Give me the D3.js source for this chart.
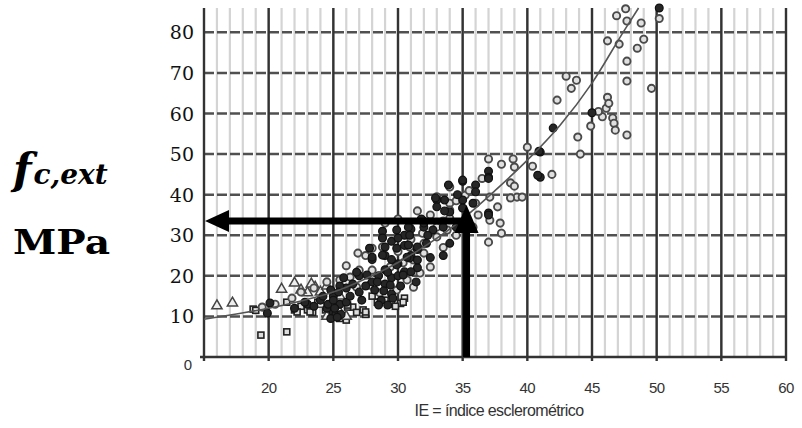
<!DOCTYPE html>
<html lang="pt">
<head>
<meta charset="UTF-8">
<title>fc,ext x IE</title>
<script src="https://d3js.org/d3.v7.min.js"></script>
<style>
  body { margin: 0; background: #fff; }
  svg { display: block; }
</style>
</head>
<body>
<div id="chart"></div>
<script>
    // Values (IE, fc,ext in MPa)
    var openCircles = [
        [46.9,84.1],[47.7,82.8],[48.8,82.3],[50.2,83.4],[46.2,77.9],[47.1,77.1],[49,78.3],[48.5,76.1],
        [47.7,72.9],[47.7,68],[49.6,66.2],[43,69.2],[43.8,68.2],[43.4,66.2],[42.3,63.3],[46.2,64],
        [46.1,61.3],[45.8,59.2],[46.6,58.9],[46.7,57.6],[46.8,55.9],[47.7,54.7],[44.9,56.9],[43.9,54.2],
        [44.1,50],[40,51.7],[37,48.8],[38,47.5],[38.9,48.8],[39,46.8],[40.4,47],[41.9,45],[34,41.9],
        [38.7,42.9],[39,42.1],[39.2,39.4],[38.7,39.2],[39.6,39.4],[37.1,39.4],[35.2,39.9],[36,37.9],
        [34,37.9],[37.7,37],[37.1,33.7],[37.9,33],[38,30.5],[37,28.3],[35.8,32],[33.8,31.3],[47.6,85.8],
        [45.5,60.5],[46.3,62.5],
        [26.9,25.6],[28,26.8],[28.8,29.6],[28.8,27.1],[30.9,32],[30.9,27.1],[31.9,30.5],[33,32],[33,29.6],
        [34,36.2],[34,34.2],[35,36.7],[27,21.4],[28,21.4],[29.4,22.2],[30.4,23.2],[31.2,23.9],[32,25.6],
        [32.5,22.2],[25.5,19],[26.3,19.7],[26.8,17.2],[27.8,17.7],[28.6,15.8],[29.9,16.5],[30.7,19],
        [31.2,17.2],[31.7,20.7],[33.5,27],[34.5,30],[36.2,35],[35.5,41],[32.5,35],[31.5,36],[30,34],
        [29,33],[27.5,25],[26,22.5],[24.5,18.5],[23.5,17],[22.5,16],[21.8,14.5],[20.5,13],[19.5,12.3],
        [30,26],[31,29],[32,28],[33.5,33.5],[34.5,38.5],[36.5,44],[33,39.5]
    ];
    var filledCircles = [
        [50.2,86],[45,60.2],[42,56.4],[41,50.5],[40.9,50.7],[37,45.8],[37,44.3],[41,44.3],[40.8,44.8],
        [35,43.3],[36,42.4],[36,40.7],[33.6,38.7],[37,35.5],[33,38.7],[33.9,42.4],[35,43.6],[29.9,31.3],
        [31.9,33.7],[28.8,31],[30.5,30],[31,31.5],[32,32],[29.5,28.5],[30.5,27.5],[31.5,26.5],[28,24],
        [29,25],[27,20],[28.5,20],[29.5,19.5],[30.5,21],[31.5,22],[26,17],[27,16],[25,15],[25.5,13],
        [25,11],[24.5,12],[25.2,10.5],[26,13.5],[24,14],[23,13],[20.1,13.3],[19.9,10.8],[29,18],[30,20],
        [32.5,24.5],[33.5,25],[34,28],[28,18.5],[29.5,15.5],[24.8,16.5],[25.5,17.5],[29,21.5],[30,23],
        [31,25],[34.5,32],[35.3,33],
        [27.8,26.8],[28,24.6],[28.8,29.3],[29,27.1],[28.8,25.1],[30,29.3],[29.9,26.8],[30.8,32],[30.9,30],
        [30.8,27.6],[25.8,19.5],[26.8,20.9],[27.6,20.2],[28.4,18.5],[29.2,20.9],[29.4,17.7],[29.9,22.7],
        [30.4,20.2],[30.9,24.4],[31.4,18.5],[22,12],[22.8,13.5],[23.5,12.5],[24.2,15],[24.6,13],[25,14],
        [25.4,16],[25.1,12],[25.6,10.5],[24.8,9.5],[25.3,9.8],[26.3,15],[26.5,18],[27.2,14],[27.5,17.5],
        [28.2,16.5],[28.7,14],[29.2,12.8],[28.9,16.3],[33,37],[35,38.7],[35,36.7],[37,44],[37,35],
        [35.8,37.9],[32,33],[32.7,31.3],[33.5,32],[31.5,27.1],[32.2,28],[31.5,23.9],[30.7,24.6],
        [32.9,39.2],[34,35.7],[33.6,36],[34.6,40],[32.3,30],[31.8,34],[29.5,24],[30.2,17.5],[31,21],
        [29.6,14.5],[28.5,12.8]
    ];
    var squares = [
        [19.4,5.4],[21.4,6.2],[18.8,11.8],[21.4,13.5],[22,11.6],[23,11.6],[23.4,11],[24.4,11.6],[26,9.1],
        [26.5,12.3],[27.3,11.6],[26.1,12.3],[30.5,14.5],[28.5,13.5],[29,14],[24.8,10],[25.5,9.5],
        [27.5,10.5],[22.5,12.5],[30.2,13.2],[28,15],[19,11.5],[25,12.5],[23.8,13.5],[26.8,11],
        [28.4,13.5],[27.5,11.1],[30.4,13.5],[26.1,12.8],[23.2,11.1],[22.2,11.1],[29.5,13],[29.8,12.5]
    ];
    var triangles = [
        [16,12.6],[17.2,13.3],[21,16.7],[22,18.2],[23,15.8],[23.6,17.2],[22.5,16.5],[24,16],[24.5,17.5],
        [25.5,15],[23.3,18],[24,13],[25,10.5],[24.5,10],[25.5,11],[26,10]
    ];
    // trend line, read point by point
    var trendIE = [15, 17.5, 20, 22.5, 25, 27.5, 30, 32.5, 35, 37.5, 40, 42.5, 45, 47.5, 48.6];
    var trendFc = [9.3, 10.6, 12, 13.8, 16, 19.3, 23.3, 28.2, 34, 41, 48.5, 57, 67.5, 80.5, 86];

    var xTicks = [20, 25, 30, 35, 40, 45, 50, 55, 60];
    var yTicks = [10, 20, 30, 40, 50, 60, 70, 80];
    var readIE = 35.3, readFc = 33.5;

    var width = 802, height = 428;
    var svg = d3.select("#chart").append("svg")
        .attr("width", width)
        .attr("height", height);

    var x = d3.scaleLinear().domain([15, 60]).range([204, 786]);
    var y = d3.scaleLinear().domain([0, 86]).range([357, 8]);

    // minor vertical grid, every unit
    svg.append("g").selectAll("line")
        .data(d3.range(16, 60))
        .enter().append("line")
        .attr("x1", function(d) { return x(d); })
        .attr("x2", function(d) { return x(d); })
        .attr("y1", y(86)).attr("y2", y(0))
        .attr("stroke", "#d4d4d4")
        .attr("stroke-width", 2.2);

    // horizontal dashed grid
    svg.append("g").selectAll("line")
        .data(yTicks)
        .enter().append("line")
        .attr("x1", x(15)).attr("x2", x(60))
        .attr("y1", function(d) { return y(d); })
        .attr("y2", function(d) { return y(d); })
        .attr("stroke", "#505050")
        .attr("stroke-width", 2.5)
        .attr("stroke-dasharray", "10,3");

    // major vertical grid
    svg.append("g").selectAll("line")
        .data([15].concat(xTicks))
        .enter().append("line")
        .attr("x1", function(d) { return x(d); })
        .attr("x2", function(d) { return x(d); })
        .attr("y1", y(86)).attr("y2", y(0) + 4)
        .attr("stroke", "#333")
        .attr("stroke-width", 2.4);

    // bottom axis line
    svg.append("line")
        .attr("x1", x(15) - 4).attr("x2", x(60))
        .attr("y1", y(0)).attr("y2", y(0))
        .attr("stroke", "#333").attr("stroke-width", 2.4);

    // x tick labels
    svg.append("g").selectAll("text")
        .data(xTicks)
        .enter().append("text")
        .attr("x", function(d) { return x(d); })
        .attr("y", 393)
        .attr("text-anchor", "middle")
        .attr("font-family", "Liberation Sans, Arial, sans-serif")
        .attr("font-size", 15)
        .attr("letter-spacing", -0.6)
        .attr("fill", "#333")
        .text(function(d) { return d; });

    svg.append("text")
        .attr("x", (x(15) + x(60)) / 2 + 4)
        .attr("y", 416)
        .attr("text-anchor", "middle")
        .attr("font-family", "Liberation Sans, Arial, sans-serif")
        .attr("font-size", 16)
        .attr("letter-spacing", -0.6)
        .attr("fill", "#333")
        .text("IE = índice esclerométrico");

    // y tick labels (serif overlay) and the small "0"
    svg.append("g").selectAll("text")
        .data(yTicks)
        .enter().append("text")
        .attr("x", 194)
        .attr("y", function(d) { return y(d) + 7; })
        .attr("text-anchor", "end")
        .attr("font-family", "DejaVu Serif, Georgia, serif")
        .attr("font-size", 19)
        .attr("fill", "#111")
        .text(function(d) { return d; });

    svg.append("text")
        .attr("x", 188).attr("y", y(0) + 13)
        .attr("text-anchor", "middle")
        .attr("font-family", "Liberation Sans, Arial, sans-serif")
        .attr("font-size", 15)
        .attr("fill", "#333")
        .text("0");

    // points
    var marks = svg.append("g");
    marks.selectAll("rect.sq")
        .data(squares)
        .enter().append("rect")
        .attr("class", "sq")
        .attr("x", function(d) { return x(d[0]) - 3; })
        .attr("y", function(d) { return y(d[1]) - 3; })
        .attr("width", 6).attr("height", 6)
        .attr("fill", "#ddd")
        .attr("stroke", "#222").attr("stroke-width", 1.6);

    marks.selectAll("path.tri")
        .data(triangles)
        .enter().append("path")
        .attr("class", "tri")
        .attr("transform", function(d) { return "translate(" + x(d[0]) + "," + y(d[1]) + ")"; })
        .attr("d", d3.symbol().type(d3.symbolTriangle).size(45))
        .attr("fill", "#eee")
        .attr("stroke", "#444").attr("stroke-width", 1.5);

    marks.selectAll("circle.open")
        .data(openCircles)
        .enter().append("circle")
        .attr("class", "open")
        .attr("cx", function(d) { return x(d[0]); })
        .attr("cy", function(d) { return y(d[1]); })
        .attr("r", 3.6)
        .attr("fill", "#e0e0e0")
        .attr("stroke", "#4a4a4a").attr("stroke-width", 1.9);

    marks.selectAll("circle.full")
        .data(filledCircles)
        .enter().append("circle")
        .attr("class", "full")
        .attr("cx", function(d) { return x(d[0]); })
        .attr("cy", function(d) { return y(d[1]); })
        .attr("r", 3.9)
        .attr("fill", "#262626")
        .attr("stroke", "#111").attr("stroke-width", 1.2);

    // trend line
    var trend = d3.line()
        .x(function(d, i) { return x(trendIE[i]); })
        .y(function(d) { return y(d); })
        .curve(d3.curveMonotoneX);
    svg.append("path")
        .attr("d", trend(trendFc))
        .attr("fill", "none")
        .attr("stroke", "#555")
        .attr("stroke-width", 1.6);

    // reading arrows
    var ax = x(readIE), ay = y(readFc);
    svg.append("line")
        .attr("x1", ax + 3).attr("x2", x(15) + 20)
        .attr("y1", ay).attr("y2", ay)
        .attr("stroke", "#000").attr("stroke-width", 7);
    svg.append("path")
        .attr("d", "M" + (x(15) + 1) + "," + ay + "L" + (x(15) + 25) + "," + (ay - 11) +
                   "L" + (x(15) + 25) + "," + (ay + 11) + "Z")
        .attr("fill", "#000");
    svg.append("line")
        .attr("x1", ax).attr("x2", ax)
        .attr("y1", y(0)).attr("y2", ay + 8)
        .attr("stroke", "#000").attr("stroke-width", 7);
    svg.append("path")
        .attr("d", "M" + ax + "," + (ay - 16) + "L" + (ax - 12) + "," + (ay + 12) +
                   "L" + (ax + 12) + "," + (ay + 12) + "Z")
        .attr("fill", "#000");

    // axis title on the left
    var fLabel = svg.append("text")
        .attr("x", 13).attr("y", 184)
        .attr("font-family", "DejaVu Serif, Georgia, serif")
        .attr("font-weight", "bold")
        .attr("font-style", "italic")
        .attr("fill", "#000");
    fLabel.append("tspan").attr("font-size", 43).text("f");
    fLabel.append("tspan").attr("font-size", 28).attr("dx", 2).text("c,ext");

    svg.append("text")
        .attr("x", 13).attr("y", 254)
        .attr("font-family", "DejaVu Serif, Georgia, serif")
        .attr("font-weight", "bold")
        .attr("font-size", 34)
        .attr("textLength", 97)
        .attr("lengthAdjust", "spacingAndGlyphs")
        .attr("fill", "#000")
        .text("MPa");
</script>
</body>
</html>
